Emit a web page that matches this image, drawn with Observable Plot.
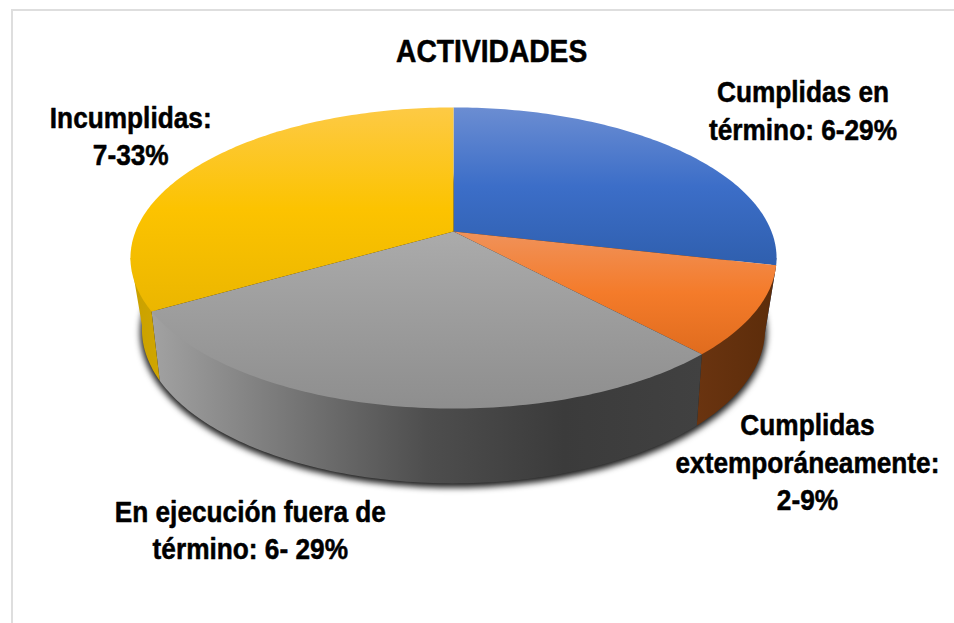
<!DOCTYPE html>
<html lang="es">
<head>
<meta charset="utf-8">
<script src="https://cdn.jsdelivr.net/npm/d3@7"></script>
<script src="https://cdn.jsdelivr.net/npm/@observablehq/plot@0.6"></script>
<style>
  html, body { margin: 0; padding: 0; background: #fff; overflow: hidden; }
  #chart { position: relative; width: 954px; height: 623px; }
  #chart svg { position: absolute; left: 0; top: 0; background: transparent; }
  #frame { position: absolute; left: 11px; top: 9px; right: -4px; bottom: -4px;
           border: 2px solid #dedede; }
</style>
</head>
<body>
<div id="chart"><div id="frame"></div></div>
<script>
// ---- data ----
const title = "ACTIVIDADES";
const categories = ["Cumplidas en término", "Cumplidas extemporáneamente", "En ejecución fuera de término", "Incumplidas"];
const values = [6, 2, 6, 7];
const labels = [
  "Cumplidas en\ntérmino: 6-29%",
  "Cumplidas\nextemporáneamente:\n2-9%",
  "En ejecución fuera de\ntérmino: 6- 29%",
  "Incumplidas:\n7-33%"
];

// ---- styling and layout ----
const topStops = [
  ["#6b8dd2", "#3c6ec8", "#2f5fae"],
  ["#f0925a", "#f47b2a", "#e06c1e"],
  ["#ababab", "#9c9c9c", "#8e8e8e"],
  ["#fdca45", "#fcc300", "#ebb600"]
];
const sideStops = [
  ["#24487f", "#24487f"],
  ["#6a3410", "#5c2c0a"],
  ["#a2a2a2", "#777777", "#4e4e4e", "#3b3b3b", "#414141"],
  ["#c9a000", "#d0a600"]
];
const labelX = [1.099, 1.113, -0.639, -1.015];
const labelY = [-0.839, 1.571, 2.036, -0.664];
const titleX = 0.12, titleY = -1.232;

// perspective of the pie plane (far edge is at the top)
const upperRim = {sx: 1, sy: 1, tilt: 0.176, shift: 0};
const lowerRim = {sx: 0.96, sy: 1.014, tilt: 0.2, shift: 0.459};
const seamRim  = {sx: 0.985, sy: 0.985, tilt: 0.176, shift: 0};  // hides the top/side seam
const shadowRim = {sx: 0.965, sy: 1.02, tilt: 0.2, shift: 0.48};

function project(theta, rim = upperRim) {
  const u = Math.sin(theta), v = -Math.cos(theta);
  const w = 1 - rim.tilt * v;
  return {x: rim.sx * u / w, y: rim.shift + rim.sy * v / w};
}

const deg = Math.PI / 180;
const angles = d3.cumsum([0, ...values]).map(c => c / d3.sum(values) * 2 * Math.PI);
const sweep = (a, b) => d3.range(Math.max(2, Math.ceil((b - a) / deg) + 1))
  .map((i, _, r) => a + (b - a) * i / (r.length - 1));

const sideFrom = Math.acos(-upperRim.tilt), sideTo = 2 * Math.PI - sideFrom;

const topPaths = values.map((_, i) =>
  [{x: 0, y: 0}, ...sweep(angles[i], angles[i + 1]).map(t => project(t))]);

const sidePaths = values.map((_, i) => {
  const a = Math.max(angles[i], sideFrom), b = Math.min(angles[i + 1], sideTo);
  if (b <= a) return [];
  const s = sweep(a, b);
  return [project(a), ...s.map(t => project(t, seamRim)), project(b),
          ...s.slice().reverse().map(t => project(t, lowerRim))];
});

const shadowPath = sweep(0, 2 * Math.PI).map(t => project(t, shadowRim));

const defs = () => {
  const d = d3.create("svg:defs");
  const grad = (id, stops, vertical) => {
    const g = d.append("linearGradient").attr("id", id)
      .attr("x1", 0).attr("y1", 0)
      .attr("x2", vertical ? 0 : 1).attr("y2", vertical ? 1 : 0);
    stops.forEach((c, k) => g.append("stop")
      .attr("offset", k / (stops.length - 1)).attr("stop-color", c));
  };
  topStops.forEach((s, i) => grad(`top${i}`, s, true));
  sideStops.forEach((s, i) => grad(`side${i}`, s, false));
  return d.node();
};

const chart = Plot.plot({
  width: 954,
  height: 623,
  margin: 0,
  x: {domain: [-1, 1], range: [135, 771], axis: null},
  y: {domain: [-1, 1], range: [85.1, 376.9], axis: null},
  style: {background: "transparent"},
  marks: [
    defs,
    Plot.line(shadowPath, {x: "x", y: "y", fill: "#1c1c1c", stroke: "none", imageFilter: "blur(3px)"}),
    ...sidePaths.map((p, i) => Plot.line(p, {x: "x", y: "y", fill: `url(#side${i})`, stroke: "none"})),
    ...topPaths.map((p, i) => Plot.line(p, {x: "x", y: "y", fill: `url(#top${i})`, stroke: "none"})),
    Plot.text([title], {
      x: [titleX], y: [titleY], text: d => d, className: "squeeze-title",
      fontFamily: "Liberation Sans", fontWeight: 700, fontSize: 31, fill: "#000", stroke: "#000", strokeWidth: 0.5
    }),
    Plot.text(labels, {
      x: labelX, y: labelY, text: d => d, lineHeight: 1.27, className: "squeeze-label",
      fontFamily: "Liberation Sans", fontWeight: 700, fontSize: 29.5, fill: "#000", stroke: "#000", strokeWidth: 0.5
    })
  ]
});

// The reference's lettering is condensed horizontally.
const squeeze = (selector, factor) => d3.select(chart).selectAll(selector)
  .attr("transform", function () { return `${this.getAttribute("transform") || ""} scale(${factor},1)`; });
squeeze(".squeeze-title text", 0.91);
squeeze(".squeeze-label text", 0.89);

document.getElementById("chart").appendChild(chart);
</script>
</body>
</html>
